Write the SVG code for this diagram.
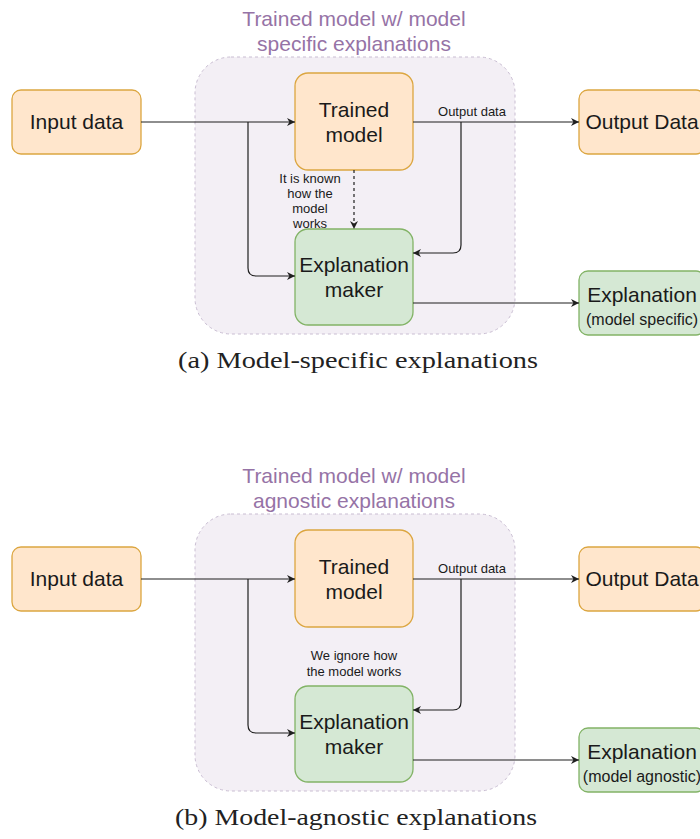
<svg xmlns="http://www.w3.org/2000/svg" width="700" height="839" viewBox="0 0 700 839">
  <style>
    .sans { font-family: "Liberation Sans", Arial, sans-serif; fill: #1a1a1a; }
    .title { font-family: "Liberation Sans", Arial, sans-serif; font-size: 21px; fill: #9673A6; text-anchor: middle; }
    .big { font-size: 21px; text-anchor: middle; }
    .small { font-size: 13px; text-anchor: middle; }
    .sub { font-size: 16px; text-anchor: middle; }
    .caption { font-family: "Liberation Serif", "Times New Roman", serif; font-size: 22.5px; fill: #222; text-anchor: middle; }
    .container { fill: #F3EFF5; stroke: #C9BDD2; stroke-width: 1; stroke-dasharray: 3 3; }
    .orange { fill: #FFE6CC; stroke: #DCA640; stroke-width: 1.3; }
    .green { fill: #D5E8D4; stroke: #82B366; stroke-width: 1.3; }
    .edge { fill: none; stroke: #1f1f1f; stroke-width: 1.2; }
    .dashed { stroke-dasharray: 3 3; }
  </style>
  <defs>
    <marker id="arrow" viewBox="0 0 10 10" refX="10" refY="5" markerWidth="9" markerHeight="8" markerUnits="userSpaceOnUse" orient="auto">
      <path d="M0,0 L10,5 L0,10 L3,5 z" fill="#1f1f1f"/>
    </marker>
  </defs>

  <rect width="700" height="839" fill="#ffffff"/>

  <!-- (a) model-specific explanations -->
  <g id="panel-a">
    <g id="a-container">
      <rect class="container" x="195" y="57" width="320" height="277" rx="36"/>
      <text class="title" x="354" y="26">Trained model w/ model</text>
      <text class="title" x="354" y="51">specific explanations</text>
    </g>
    <g id="a-input">
      <rect class="orange" x="12" y="90" width="129" height="64" rx="9"/>
      <text class="sans big" x="76.5" y="129">Input data</text>
    </g>
    <g id="a-trained">
      <rect class="orange" x="295" y="73" width="118" height="97" rx="13"/>
      <text class="sans big" x="354" y="117">Trained</text>
      <text class="sans big" x="354" y="142">model</text>
    </g>
    <g id="a-maker">
      <rect class="green" x="295" y="229" width="118" height="96" rx="13"/>
      <text class="sans big" x="354" y="272">Explanation</text>
      <text class="sans big" x="354" y="297">maker</text>
    </g>
    <g id="a-output">
      <rect class="orange" x="579" y="90" width="126" height="64" rx="9"/>
      <text class="sans big" x="642" y="129">Output Data</text>
    </g>
    <g id="a-explanation">
      <rect class="green" x="579" y="271" width="126" height="64" rx="9"/>
      <text class="sans big" x="642" y="302">Explanation</text>
      <text class="sans sub" x="642" y="325">(model specific)</text>
    </g>
    <g id="a-connectors">
      <path class="edge" d="M141,122 H295" marker-end="url(#arrow)"/>
      <path class="edge" d="M248,122 V268 Q248,276 256,276 H295" marker-end="url(#arrow)"/>
      <path class="edge" d="M413,122 H579" marker-end="url(#arrow)"/>
      <path class="edge" d="M461,122 V245 Q461,253 453,253 H413" marker-end="url(#arrow)"/>
      <path class="edge dashed" d="M354,170 V229" marker-end="url(#arrow)"/>
      <path class="edge" d="M413,303 H579" marker-end="url(#arrow)"/>
      <text class="sans small" x="472" y="116">Output data</text>
      <text class="sans small" x="310" y="183">It is known</text>
      <text class="sans small" x="310" y="198">how the</text>
      <text class="sans small" x="310" y="213">model</text>
      <text class="sans small" x="310" y="228">works</text>
    </g>
    <text class="caption" x="358" y="368" textLength="360" lengthAdjust="spacingAndGlyphs">(a) Model-specific explanations</text>
  </g>

  <!-- (b) model-agnostic explanations -->
  <g id="panel-b" transform="translate(0,457)">
    <g id="b-container">
      <rect class="container" x="195" y="57" width="320" height="277" rx="36"/>
      <text class="title" x="354" y="26">Trained model w/ model</text>
      <text class="title" x="354" y="51">agnostic explanations</text>
    </g>
    <g id="b-input">
      <rect class="orange" x="12" y="90" width="129" height="64" rx="9"/>
      <text class="sans big" x="76.5" y="129">Input data</text>
    </g>
    <g id="b-trained">
      <rect class="orange" x="295" y="73" width="118" height="97" rx="13"/>
      <text class="sans big" x="354" y="117">Trained</text>
      <text class="sans big" x="354" y="142">model</text>
    </g>
    <g id="b-maker">
      <rect class="green" x="295" y="229" width="118" height="96" rx="13"/>
      <text class="sans big" x="354" y="272">Explanation</text>
      <text class="sans big" x="354" y="297">maker</text>
    </g>
    <g id="b-output">
      <rect class="orange" x="579" y="90" width="126" height="64" rx="9"/>
      <text class="sans big" x="642" y="129">Output Data</text>
    </g>
    <g id="b-explanation">
      <rect class="green" x="579" y="271" width="126" height="64" rx="9"/>
      <text class="sans big" x="642" y="302">Explanation</text>
      <text class="sans sub" x="642" y="325">(model agnostic)</text>
    </g>
    <g id="b-connectors">
      <path class="edge" d="M141,122 H295" marker-end="url(#arrow)"/>
      <path class="edge" d="M248,122 V268 Q248,276 256,276 H295" marker-end="url(#arrow)"/>
      <path class="edge" d="M413,122 H579" marker-end="url(#arrow)"/>
      <path class="edge" d="M461,122 V245 Q461,253 453,253 H413" marker-end="url(#arrow)"/>
      <path class="edge" d="M413,303 H579" marker-end="url(#arrow)"/>
      <text class="sans small" x="472" y="116">Output data</text>
      <text class="sans small" x="354" y="203">We ignore how</text>
      <text class="sans small" x="354" y="219">the model works</text>
    </g>
    <text class="caption" x="356" y="368" textLength="362" lengthAdjust="spacingAndGlyphs">(b) Model-agnostic explanations</text>
  </g>
</svg>
